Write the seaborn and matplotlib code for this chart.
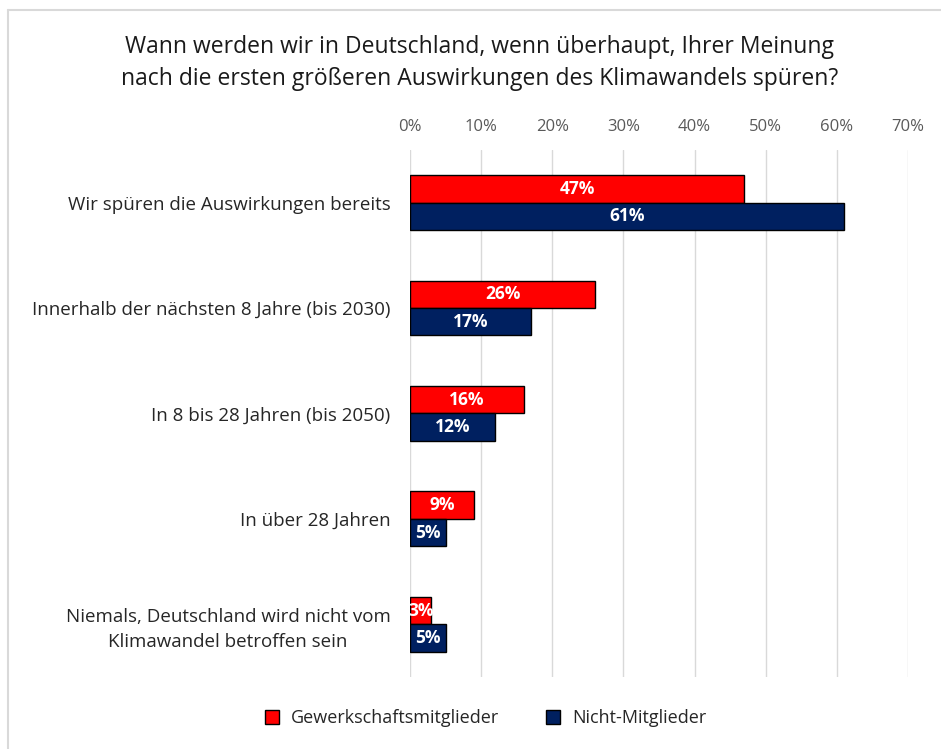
import pandas as pd
import matplotlib.pyplot as plt
import seaborn as sns
from matplotlib.lines import Line2D

# data
categories = [
    "Wir spüren die Auswirkungen bereits",
    "Innerhalb der nächsten 8 Jahre (bis 2030)",
    "In 8 bis 28 Jahren (bis 2050)",
    "In über 28 Jahren",
    "Niemals, Deutschland wird nicht vom\nKlimawandel betroffen sein",
]
members = [47, 26, 16, 9, 3]
non_members = [61, 17, 12, 5, 5]
series = ["Gewerkschaftsmitglieder", "Nicht-Mitglieder"]
colors = ["#FF0000", "#002060"]
ticks = [0, 10, 20, 30, 40, 50, 60, 70]

df = pd.DataFrame({
    "category": categories * 2,
    "value": members + non_members,
    "group": [series[0]] * len(categories) + [series[1]] * len(categories),
})

sns.set_style("white")
plt.rcParams["font.family"] = ["Open Sans", "DejaVu Sans"]

fig = plt.figure(figsize=(9.41, 7.49), dpi=100)
ax = fig.add_axes([0.4357, 0.096, 0.5293, 0.704])

sns.barplot(data=df, x="value", y="category", hue="group", orient="h",
            palette=colors, width=0.52, edgecolor="black", linewidth=1,
            saturation=1, ax=ax, legend=False)

for cont in ax.containers:
    ax.bar_label(cont, labels=[f"{v:.0f}%" for v in cont.datavalues],
                 label_type="center", color="white", fontweight="bold",
                 fontsize=12.5)

ax.set_xlim(0, 70)
ax.set_ylim(len(categories) - 0.5, -0.5)
ax.set_xticks(ticks)
ax.set_xticklabels([f"{t}%" for t in ticks], color="#595959", fontsize=12)
ax.xaxis.tick_top()
ax.tick_params(axis="x", length=0, pad=11)
ax.tick_params(axis="y", length=0, pad=14, labelsize=13.5)
for lbl in ax.get_yticklabels():
    lbl.set_color("#262626")
    lbl.set_horizontalalignment("right")
    lbl.set_multialignment("center")
    lbl.set_linespacing(1.45)
ax.set_xlabel("")
ax.set_ylabel("")
ax.grid(axis="x", color="#d9d9d9", linewidth=1)
ax.set_axisbelow(True)
sns.despine(ax=ax, left=True, bottom=True)
ax.spines["top"].set_visible(False)

fig.text(0.51, 0.916, "Wann werden wir in Deutschland, wenn überhaupt, Ihrer Meinung\n"
         "nach die ersten größeren Auswirkungen des Klimawandels spüren?",
         ha="center", va="center", fontsize=16.5, color="#1a1a1a", linespacing=1.4)

handles = [Line2D([], [], marker="s", linestyle="", markersize=10,
                  markerfacecolor=c, markeredgecolor="black") for c in colors]
fig.legend(handles, series, loc="center", bbox_to_anchor=(0.51, 0.041), ncol=2,
           frameon=False, fontsize=13, handletextpad=0.05, columnspacing=2.0)

# outer frame (left and top edges)
fig.add_artist(Line2D([0.0085, 0.0085], [0, 0.987], color="#d9d9d9", lw=1.5,
                      transform=fig.transFigure))
fig.add_artist(Line2D([0.0085, 1], [0.987, 0.987], color="#d9d9d9", lw=1.5,
                      transform=fig.transFigure))

fig.savefig("out.png", dpi=100)
